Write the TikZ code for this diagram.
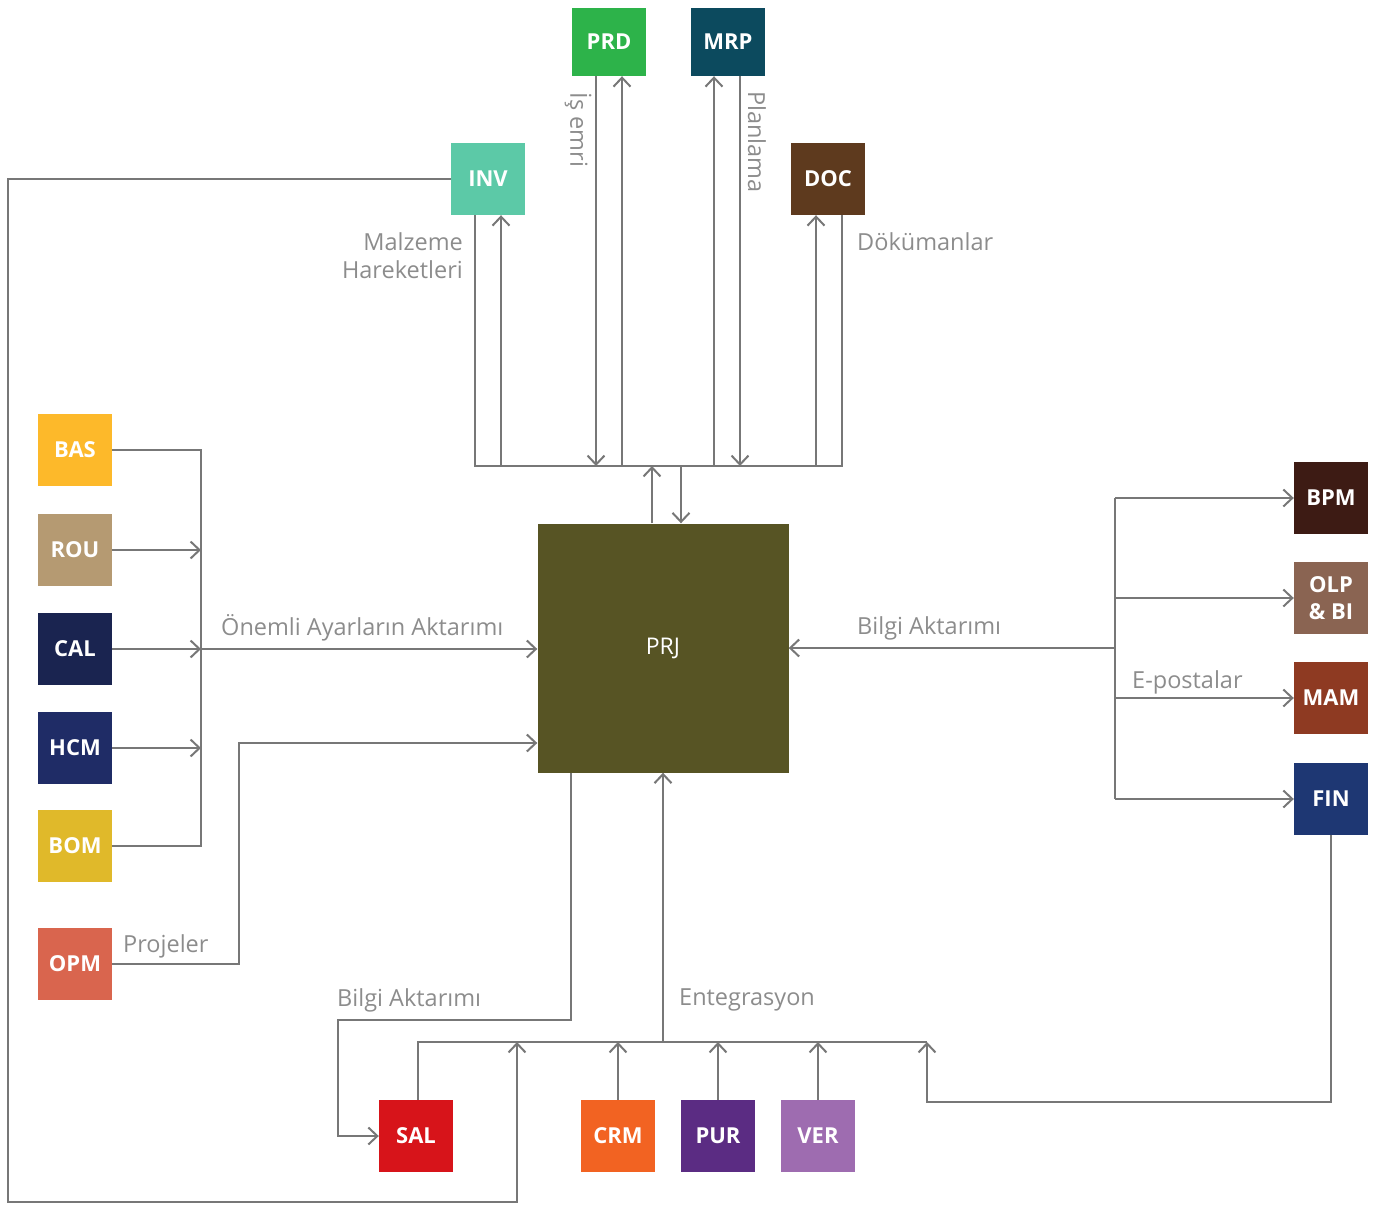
\documentclass[tikz,border=0pt]{standalone}
\usepackage{fontspec}
\setsansfont{Open Sans}
\renewcommand{\familydefault}{\sfdefault}
\usetikzlibrary{arrows.meta}

% module colours
\definecolor{cPRD}{HTML}{2DB34A}
\definecolor{cMRP}{HTML}{0C4A5E}
\definecolor{cINV}{HTML}{5CC9A7}
\definecolor{cDOC}{HTML}{5E3A1E}
\definecolor{cBAS}{HTML}{FDB92A}
\definecolor{cROU}{HTML}{B59A72}
\definecolor{cCAL}{HTML}{1A2450}
\definecolor{cHCM}{HTML}{1F2C66}
\definecolor{cBOM}{HTML}{E0B92A}
\definecolor{cOPM}{HTML}{D9654E}
\definecolor{cPRJ}{HTML}{575424}
\definecolor{cBPM}{HTML}{3D1B14}
\definecolor{cOLP}{HTML}{8A6452}
\definecolor{cMAM}{HTML}{8E3A22}
\definecolor{cFIN}{HTML}{1E3773}
\definecolor{cSAL}{HTML}{D7141A}
\definecolor{cCRM}{HTML}{F26322}
\definecolor{cPUR}{HTML}{5B2C83}
\definecolor{cVER}{HTML}{9E6CB0}
\definecolor{linegray}{HTML}{777777}
\definecolor{labelgray}{HTML}{8C8C8C}

\tikzstyle{every node}=[font={\fontsize{23.5}{28}\selectfont}, text=labelgray, inner sep=0pt]
\tikzstyle{module}=[minimum width=74pt, minimum height=72pt, text=white, font={\bfseries\fontsize{22}{27}\selectfont}]
\tikzstyle{link}=[draw=linegray, line width=2pt]
\tikzstyle{flow}=[link, -{Straight Barb[length=9pt,width=17pt,line width=2pt]}]

\begin{document}
\begin{tikzpicture}[x=1pt, y=-1pt]
    \useasboundingbox (0,0) rectangle (1376,1205);

    % modules
    \node [module, fill=cPRD, minimum height=68pt] (prd) at (609,42) {PRD};
    \node [module, fill=cMRP, minimum height=68pt] (mrp) at (728,42) {MRP};
    \node [module, fill=cINV] (inv) at (488,179) {INV};
    \node [module, fill=cDOC] (doc) at (828,179) {DOC};
    \node [module, fill=cBAS] (bas) at (75,450) {BAS};
    \node [module, fill=cROU] (rou) at (75,550) {ROU};
    \node [module, fill=cCAL] (cal) at (75,649) {CAL};
    \node [module, fill=cHCM] (hcm) at (75,748) {HCM};
    \node [module, fill=cBOM] (bom) at (75,846) {BOM};
    \node [module, fill=cOPM] (opm) at (75,964) {OPM};
    \node [module, fill=cPRJ, minimum width=251pt, minimum height=249pt,
           font={\fontsize{23}{27}\selectfont}] (prj) at (663,648) {PRJ};
    \node [module, fill=cBPM] (bpm) at (1331,498) {BPM};
    \node [module, fill=cOLP, align=center] (olp) at (1331,598) {OLP\\\& BI};
    \node [module, fill=cMAM] (mam) at (1331,698) {MAM};
    \node [module, fill=cFIN] (fin) at (1331,799) {FIN};
    \node [module, fill=cSAL] (sal) at (416,1136) {SAL};
    \node [module, fill=cCRM] (crm) at (618,1136) {CRM};
    \node [module, fill=cPUR] (pur) at (718,1136) {PUR};
    \node [module, fill=cVER] (ver) at (818,1136) {VER};

    % top bus
    \coordinate (tl) at (475,466);
    \coordinate (tr) at (842,466);
    \coordinate (t2) at (501,466);
    \coordinate (t3) at (596,466);
    \coordinate (t4) at (622,466);
    \coordinate (t5) at (714,466);
    \coordinate (t6) at (740,466);
    \coordinate (t7) at (816,466);
    \coordinate (t8) at (652,466);
    \coordinate (t9) at (681,466);
    \draw [link] (inv.south -| tl) -- (tl) -- (tr) -- (doc.south -| tr);
    \draw [flow] (t2) -- (t2 |- inv.south);
    \draw [flow] (t3 |- prd.south) -- (t3);
    \draw [flow] (t4) -- (t4 |- prd.south);
    \draw [flow] (t5) -- (t5 |- mrp.south);
    \draw [flow] (t6 |- mrp.south) -- (t6);
    \draw [flow] (t7) -- (t7 |- doc.south);
    \draw [flow] (t8 |- prj.north) -- (t8);
    \draw [flow] (t9) -- (t9 |- prj.north);

    % left side
    \coordinate (lc) at (201,0);
    \coordinate (op) at (239,743);
    \draw [link] (bas.east) -- (bas.east -| lc) -- (bom.east -| lc) -- (bom.east);
    \draw [flow] (rou.east) -- (rou.east -| lc);
    \draw [flow] (cal.east) -- (cal.east -| lc);
    \draw [flow] (hcm.east) -- (hcm.east -| lc);
    \draw [flow] (cal.east -| lc) -- (prj.west |- cal.east);
    \draw [flow] (opm.east) -| (op) -- (prj.west |- op);

    % long line from INV
    \coordinate (ll) at (8,1202);
    \coordinate (lb) at (517,1202);
    \coordinate (bl) at (418,1042);
    \coordinate (br) at (927,1042);
    \draw [flow] (inv.west) -| (ll) -- (lb) -- (lb |- bl);

    % right side
    \coordinate (rc) at (1115,0);
    \draw [link] (bpm.west -| rc) -- (fin.west -| rc);
    \draw [flow] (rc |- prj.east) -- (prj.east);
    \draw [flow] (bpm.west -| rc) -- (bpm.west);
    \draw [flow] (olp.west -| rc) -- (olp.west);
    \draw [flow] (mam.west -| rc) -- (mam.west);
    \draw [flow] (fin.west -| rc) -- (fin.west);

    % bottom bus
    \coordinate (sb) at (571,1020);
    \coordinate (sk) at (338,1020);
    \coordinate (fb) at (927,1102);
    \draw [link] (sal.north -| bl) -- (bl) -- (br);
    \draw [flow] (prj.south |- bl) -- (prj.south);
    \draw [flow] (crm.north) -- (crm.north |- bl);
    \draw [flow] (pur.north) -- (pur.north |- bl);
    \draw [flow] (ver.north) -- (ver.north |- bl);
    \draw [flow] (sb |- prj.south) |- (sk) |- (sal.west);
    \draw [flow] (fin.south) |- (fb) -- (br);

    % labels
    \node [rotate=-90] (isemri) at (578,130) {İş emri};
    \node [rotate=-90] (planlama) at (757,142) {Planlama};
    \node [anchor=east, align=right] (malzeme) at (463,256) {Malzeme\\Hareketleri};
    \node [anchor=west] (dokuman) at (857,242) {Dökümanlar};
    \node [anchor=west] (onemli) at (221,628) {Önemli Ayarların Aktarımı};
    \node [anchor=west] (bilgir) at (857,628) {Bilgi Aktarımı};
    \node [anchor=west] (eposta) at (1132,682) {E-postalar};
    \node [anchor=west] (projeler) at (123,946) {Projeler};
    \node [anchor=west] (bilgib) at (337,1000) {Bilgi Aktarımı};
    \node [anchor=west] (entegr) at (679,1000) {Entegrasyon};
\end{tikzpicture}
\end{document}
